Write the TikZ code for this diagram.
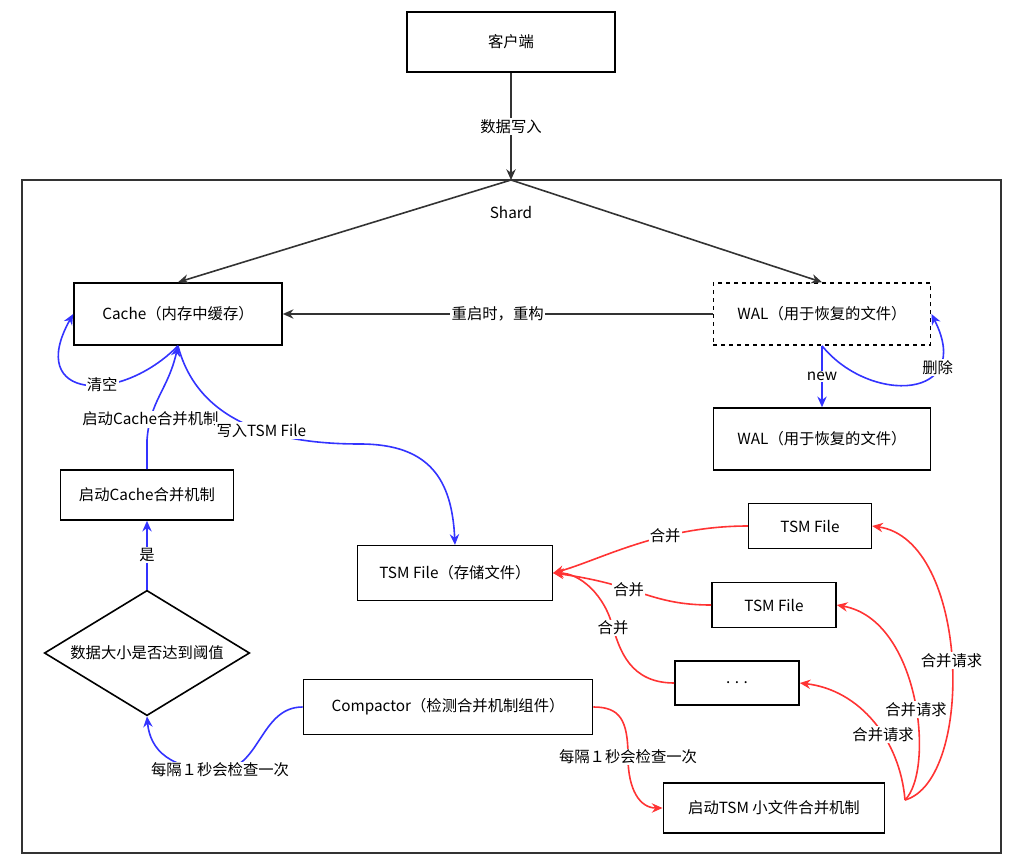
\documentclass[tikz,border=0pt]{standalone}
\usepackage{fontspec}
\setmainfont{Noto Sans CJK SC}
\usetikzlibrary{shapes.geometric,arrows.meta}
\definecolor{myblue}{RGB}{51,51,255}
\definecolor{myred}{RGB}{255,51,51}
\begin{document}
\begin{tikzpicture}[x=0.75pt,y=-0.75pt,font=\fontsize{11.5}{13}\selectfont,
    box/.style={draw,line width=1.2pt,rectangle,inner sep=0pt},
    lbl/.style={fill=white,text=black,inner sep=1pt},
    bline/.style={myblue,line width=1.2pt,-{Stealth[length=8pt,width=7pt]}},
    rline/.style={myred,line width=1.2pt,-{Stealth[length=8pt,width=7pt]}},
    kline/.style={black!80,line width=1.2pt,-{Stealth[length=8pt,width=7pt]}}]
    \useasboundingbox (0,0) rectangle (1018,867);
    \node[box,minimum width=156pt,minimum height=45pt] (client) at (511,42) {客户端};
    \draw[line width=1.2pt,black!80] (22,180) rectangle (1001,853);
    \coordinate (top) at (511,180);
    \node (shard) at (511,212) {Shard};
    \draw[kline] (client) -- node[lbl] {数据写入} (top);

    \node[box,minimum width=156pt,minimum height=46.5pt] (cache) at (178,314) {Cache（内存中缓存）};
    \node[box,dashed,minimum width=163pt,minimum height=46.5pt] (wal) at (822,314) {WAL（用于恢复的文件）};
    \node[box,minimum width=163pt,minimum height=46.5pt] (wal2) at (822,439) {WAL（用于恢复的文件）};
    \draw[kline] (top) -- (cache.north);
    \draw[kline] (top) -- (wal.north);
    \draw[kline] (wal) -- node[lbl] {重启时，重构} (cache);
    \draw[bline] (wal.south) -- node[lbl] {new} (wal2);
    \draw[bline] (wal.south) .. controls (870,405) and (975,400) .. node[pos=0.72,lbl] {删除} (wal.east);

    \node[box,minimum width=130pt,minimum height=37.5pt] (merge) at (147,495) {启动Cache合并机制};
    \node[draw,line width=1.2pt,diamond,aspect=1.65,inner sep=0pt,minimum width=154pt,minimum height=94pt] (check) at (147,653) {数据大小是否达到阈值};
    \node[box,minimum width=146pt,minimum height=41pt] (tsm) at (455,573) {TSM File（存储文件）};
    \node[box,minimum width=217pt,minimum height=41pt] (comp) at (448,707) {Compactor（检测合并机制组件）};
    \node[box,minimum width=166pt,minimum height=37.5pt] (tsmmerge) at (774,808) {启动TSM 小文件合并机制};
    \node[box,minimum width=92pt,minimum height=34pt] (f1) at (810,526) {TSM File};
    \node[box,minimum width=93pt,minimum height=34pt] (f2) at (774,605) {TSM File};
    \node[box,minimum width=93pt,minimum height=33pt] (f3) at (737,683) {. . .};

    \draw[bline] (cache.south) .. controls (120,405) and (25,400) .. node[pos=0.4,lbl] {清空} (cache.west);
    \draw[bline] (merge.north) -- (147,440) .. controls (150,400) and (168,390) .. node[pos=0.2,lbl] {启动Cache合并机制} (cache.south);
    \draw[bline] (cache.south) .. controls (200,430) and (290,444) .. node[pos=0.55,lbl] {写入TSM File} (360,444) .. controls (430,444) and (452,480) .. (tsm.north);
    \draw[bline] (check.north) -- node[lbl] {是} (merge.south);
    \draw[bline] (comp.west) .. controls (260,707) and (260,770) .. (220,770) node[lbl] {每隔１秒会检查一次} .. controls (170,770) and (150,750) .. (check.south);
    \draw[rline] (comp.east) .. controls (620,707) and (628,720) .. (628,757) node[lbl] {每隔１秒会检查一次} .. controls (628,790) and (640,808) .. (tsmmerge.west);

    \draw[rline] (f1.west) .. controls (660,526) and (600,560) .. node[pos=0.35,lbl] {合并} (tsm.east);
    \draw[rline] (f2.west) .. controls (650,605) and (640,585) .. node[pos=0.6,lbl] {合并} (tsm.east);
    \draw[rline] (f3.west) .. controls (630,683) and (620,650) .. (613,628) node[lbl] {合并} .. controls (605,595) and (580,573) .. (tsm.east);

    \draw[rline] (905,800) .. controls (975,780) and (970,540) .. node[pos=0.5,lbl] {合并请求} (f1.east);
    \draw[rline] (905,800) .. controls (935,770) and (920,620) .. node[pos=0.45,lbl] {合并请求} (f2.east);
    \draw[rline] (905,800) .. controls (900,740) and (860,690) .. node[pos=0.4,lbl] {合并请求} (f3.east);
\end{tikzpicture}
\end{document}
